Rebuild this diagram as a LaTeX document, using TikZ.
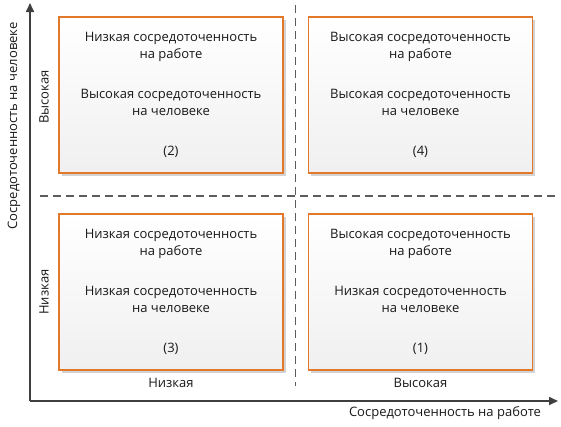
\documentclass[tikz,border=0pt]{standalone}
\usepackage{fontspec}
\setmainfont{Open Sans}
\usetikzlibrary{positioning,shadows,arrows.meta}

\definecolor{boxorange}{HTML}{E2792A}
\definecolor{axisgray}{HTML}{3F3F3F}

\begin{document}
\begin{tikzpicture}[x=1pt,y=-1pt,
  quad/.style={rectangle,draw=boxorange,line width=1.8pt,top color=white,bottom color=gray!12,
               minimum width=224pt,minimum height=156pt,align=center,
               font=\fontsize{13}{17}\selectfont,text=black!90,
               drop shadow={shadow xshift=2.5pt,shadow yshift=-2.5pt,fill=gray,opacity=.35}},
  axis/.style={-{Triangle[length=9pt,width=8pt]},line width=1.6pt,draw=axisgray},
  sep/.style={dashed,dash pattern=on 8pt off 5pt,line width=1.3pt,draw=axisgray!85},
  lbl/.style={font=\fontsize{13}{15}\selectfont,text=black!90},
]
\useasboundingbox (0,0) rectangle (561,426);

% Quadrants
\node[quad] (q2) at (171,95)
  {Низкая сосредоточенность\\на работе\\[23pt]Высокая сосредоточенность\\на человеке\\[23pt](2)};
\node[quad] (q4) at (420.5,95)
  {Высокая сосредоточенность\\на работе\\[23pt]Высокая сосредоточенность\\на человеке\\[23pt](4)};
\node[quad] (q3) at (171,292)
  {Низкая сосредоточенность\\на работе\\[23pt]Низкая сосредоточенность\\на человеке\\[23pt](3)};
\node[quad] (q1) at (420.5,292)
  {Высокая сосредоточенность\\на работе\\[23pt]Низкая сосредоточенность\\на человеке\\[23pt](1)};

% Separators
\coordinate (vtop) at (295.5,5);
\coordinate (vbot) at (295.5,386);
\coordinate (hleft) at (40,196);
\coordinate (hright) at (557,196);
\draw[sep] (vtop) -- (vbot);
\draw[sep] (hleft) -- (hright);

% Axes
\coordinate (origin) at (30,401);
\coordinate (xend) at (558,401);
\coordinate (yend) at (30,3);
\draw[axis] (origin) -- (xend);
\draw[axis] (origin) -- (yend);

% Axis labels
\node[lbl] (xlow) at (171,383) {Низкая};
\node[lbl] (xhigh) at (420.5,383) {Высокая};
\node[lbl,rotate=90] (yhigh) at (44,97) {Высокая};
\node[lbl,rotate=90] (ylow) at (44,292) {Низкая};
\node[lbl] (xtitle) at (445,413) {Сосредоточенность на работе};
\node[lbl,rotate=90] (ytitle) at (14,126) {Сосредоточенность на человеке};

\end{tikzpicture}
\end{document}
